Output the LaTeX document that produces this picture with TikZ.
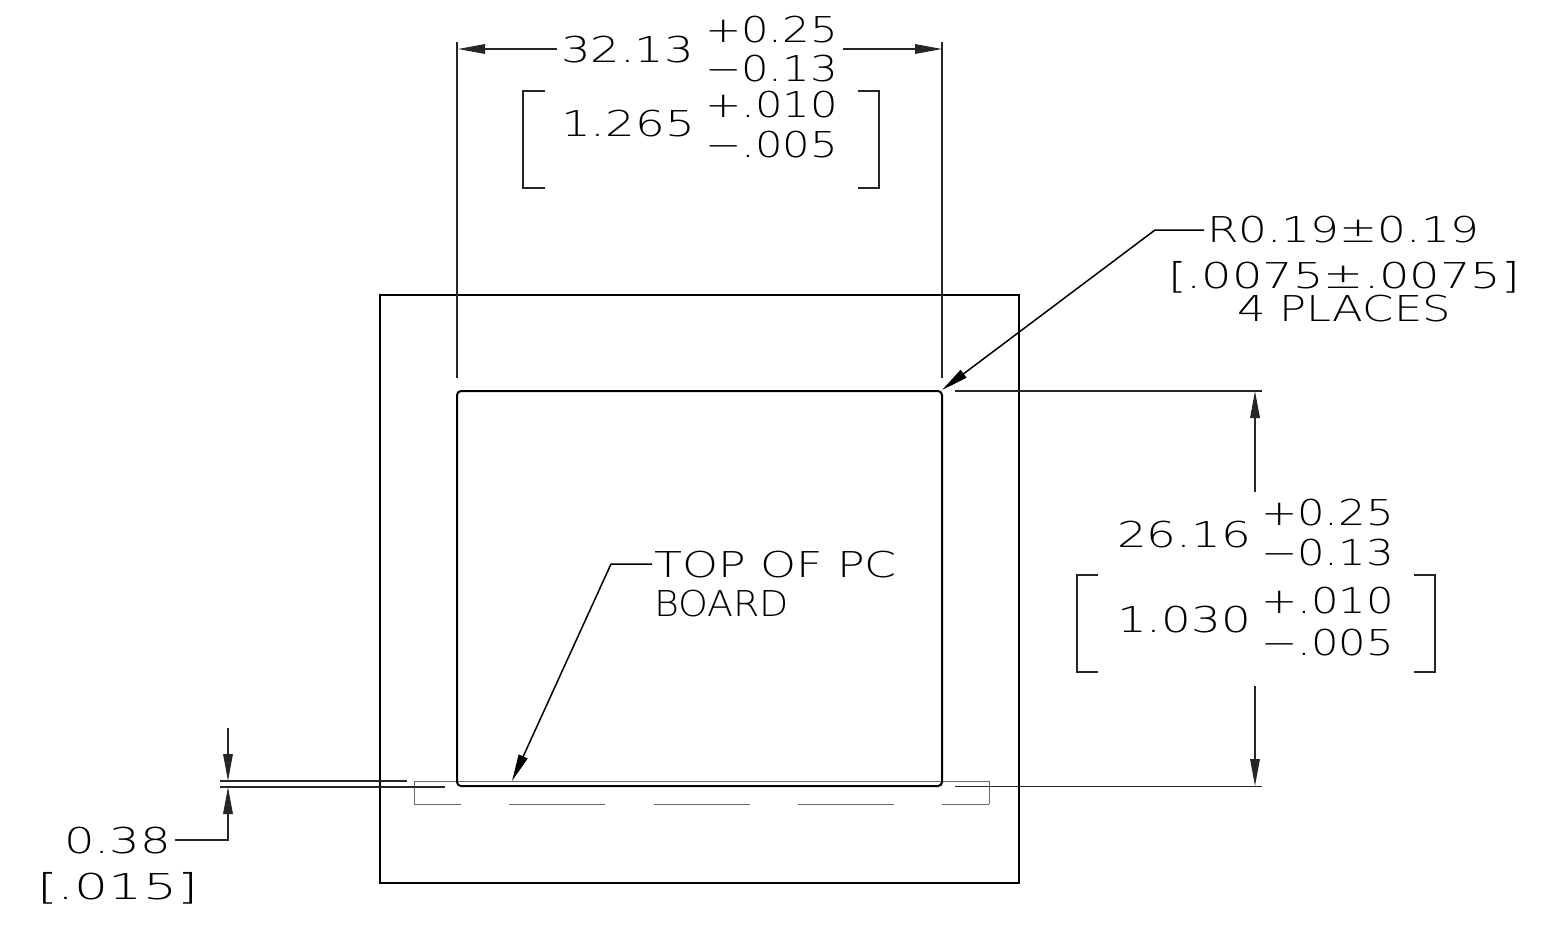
\documentclass[tikz,border=0pt]{standalone}
\usepackage{fontspec}
\usepackage{graphicx}
\usetikzlibrary{arrows.meta}
\newfontfamily\cadfont{DejaVu Sans ExtraLight}
\newdimen\cadpx \cadpx=.5pt
\tikzset{
  cadlabel/.style={anchor=base west,inner sep=0pt,outer sep=0pt,text=black,font=\cadfont\fontsize{17.8pt}{20pt}\selectfont},
  heavy/.style={line width=1pt,draw=black},
  outline/.style={line width=.85pt,draw=black},
  thin line/.style={line width=.6pt,draw=black!85},
  board/.style={line width=.5pt,draw=black!60},
  dimhead/.style={-{Triangle[length=13.5pt,width=4.8pt]}},
}
\newcommand\cadtxt[5]{\node[cadlabel] (#1) at (#2-2,#3) {\resizebox{\dimexpr#4\cadpx+2pt\relax}{\height}{#5}};}
\begin{document}
\begin{tikzpicture}[x=.5pt,y=-.5pt]
\useasboundingbox[fill=white] (0,0) rectangle (1559,944);
% parts
\node[outline,draw,rectangle,minimum width=319.5pt,minimum height=294pt,inner sep=0pt,outer sep=0pt,anchor=north west] (outer) at (380,295) {};
% board
\coordinate (bTL) at (414,781); \coordinate (bTR) at (989,781);
\coordinate (bBL) at (414,804); \coordinate (bBR) at (989,804);
\draw[board] (bBL) -- (bTL) -- (bTR) -- (bBR);
\draw[board] (414,804) -- (461,804) (509,804) -- (605,804) (654,804) -- (750,804) (798,804) -- (894,804) (942,804) -- (989,804);
\draw[heavy,rounded corners=2pt] (457,391) rectangle (942,786);
% extension lines
\draw[thin line] (457,42) -- (457,378);
\draw[thin line] (942,42) -- (942,378);
\draw[thin line] (955,391) -- (1262,391);
\draw[thin line] (955,786.5) -- (1262,786.5);
\draw[thin line] (220,781) -- (407,781);
\draw[thin line] (220,787) -- (445,787);
% texts
\cadtxt{wmain}{563}{62}{129}{32.13}
\cadtxt{wplus}{707}{42}{129}{+0.25}
\cadtxt{wminus}{707}{81}{129}{−0.13}
\cadtxt{wimain}{563}{136}{130}{1.265}
\cadtxt{wiplus}{707}{117}{129}{+.010}
\cadtxt{wiminus}{707}{157}{129}{−.005}
\cadtxt{hmain}{1119}{547}{130}{26.16}
\cadtxt{hplus}{1263}{525}{129}{+0.25}
\cadtxt{hminus}{1263}{565}{129}{−0.13}
\cadtxt{himain}{1119}{632}{130}{1.030}
\cadtxt{hiplus}{1263}{613}{129}{+.010}
\cadtxt{himinus}{1263}{655}{129}{−.005}
\cadtxt{rad}{1209}{242}{268}{R0.19±0.19}
\cadtxt{radi}{1170}{288}{348}{[.0075±.0075]}
\cadtxt{places}{1239}{321}{210}{4 PLACES}
\cadtxt{top}{656}{577}{239}{TOP OF PC}
\cadtxt{brd}{656}{616}{131}{BOARD}
\cadtxt{gap}{66}{853}{103}{0.38}
\cadtxt{gapi}{39}{899}{157}{[.015]}
% big brackets
\draw[thin line] (545,91) -| (523,188) -- (545,188);
\draw[thin line] (858,91) -| (879,188) -- (858,188);
\draw[thin line] (1098,575) -| (1077,672) -- (1098,672);
\draw[thin line] (1414,575) -| (1435,672) -- (1414,672);
% dimension arrows
\coordinate (wl) at (458,49); \coordinate (wr) at (942,49);
\coordinate (wla) at (557,49); \coordinate (wra) at (843,49);
\draw[thin line,dimhead] (wla) -- (wl);
\draw[thin line,dimhead] (wra) -- (wr);
\coordinate (ht) at (1255,391); \coordinate (hb) at (1255,786);
\coordinate (hta) at (1255,492); \coordinate (hba) at (1255,686);
\draw[thin line,dimhead] (hta) -- (ht);
\draw[thin line,dimhead] (hba) -- (hb);
\coordinate (gt) at (228,781); \coordinate (gb) at (228,787);
\coordinate (gta) at (228,728); \coordinate (gba) at (175,840);
\draw[thin line,dimhead] (gta) -- (gt);
\draw[thin line,dimhead] (gba) -| (gb);
% leaders
\coordinate (rtip) at (942,390); \coordinate (ttip) at (512,781);
\coordinate (rs) at (1204,230); \coordinate (ts) at (652,564);
\draw[line width=.75pt,draw=black,dimhead] (rs) -- (1155,230) -- (rtip);
\draw[line width=.75pt,draw=black,dimhead] (ts) -- (611,564) -- (ttip);
\end{tikzpicture}
\end{document}
